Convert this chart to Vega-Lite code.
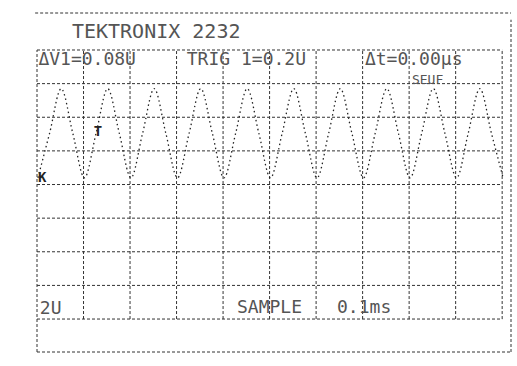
{
  "$schema": "https://vega.github.io/schema/vega-lite/v6.json",
  "width": 474,
  "height": 339,
  "autosize": {"type": "none"},
  "padding": {"left": 37, "top": 13, "right": 6, "bottom": 14},
  "background": "white",
  "config": {"view": {"stroke": null}},
  "datasets": {
    "lines": [
      {"x1": 0, "x2": 0, "y1": -0.98, "y2": 8},
      {"x1": 1, "x2": 1, "y1": 0, "y2": 8},
      {"x1": 2, "x2": 2, "y1": 0, "y2": 8},
      {"x1": 3, "x2": 3, "y1": 0, "y2": 8},
      {"x1": 4, "x2": 4, "y1": 0, "y2": 8},
      {"x1": 5, "x2": 5, "y1": 0, "y2": 8},
      {"x1": 6, "x2": 6, "y1": 0, "y2": 8},
      {"x1": 7, "x2": 7, "y1": 0, "y2": 8},
      {"x1": 8, "x2": 8, "y1": 0, "y2": 8},
      {"x1": 9, "x2": 9, "y1": 0, "y2": 8},
      {"x1": 10, "x2": 10, "y1": 0, "y2": 8},
      {"x1": 0, "x2": 10, "y1": 0, "y2": 0},
      {"x1": 0, "x2": 10, "y1": 1, "y2": 1},
      {"x1": 0, "x2": 10, "y1": 2, "y2": 2},
      {"x1": 0, "x2": 10, "y1": 3, "y2": 3},
      {"x1": 0, "x2": 10, "y1": 4, "y2": 4},
      {"x1": 0, "x2": 10, "y1": 5, "y2": 5},
      {"x1": 0, "x2": 10, "y1": 6, "y2": 6},
      {"x1": 0, "x2": 10, "y1": 7, "y2": 7},
      {"x1": 0, "x2": 10, "y1": 8, "y2": 8},
      {"x1": -0.04, "x2": 10.19, "y1": 9.1, "y2": 9.1},
      {"x1": 10.19, "x2": 10.19, "y1": -0.98, "y2": 8.9},
      {"x1": 0, "x2": 10.19, "y1": -0.98, "y2": -0.98}
    ],
    "wave": [
      {"t": 0.02, "v": 4.2}, {"t": 0.27, "v": 5.52}, {"t": 0.52, "v": 6.85}, {"t": 0.77, "v": 5.52},
      {"t": 1.02, "v": 4.2}, {"t": 1.27, "v": 5.52}, {"t": 1.52, "v": 6.85}, {"t": 1.77, "v": 5.52},
      {"t": 2.02, "v": 4.2}, {"t": 2.27, "v": 5.52}, {"t": 2.52, "v": 6.85}, {"t": 2.77, "v": 5.52},
      {"t": 3.02, "v": 4.2}, {"t": 3.27, "v": 5.52}, {"t": 3.52, "v": 6.85}, {"t": 3.77, "v": 5.52},
      {"t": 4.02, "v": 4.2}, {"t": 4.27, "v": 5.52}, {"t": 4.52, "v": 6.85}, {"t": 4.77, "v": 5.52},
      {"t": 5.02, "v": 4.2}, {"t": 5.27, "v": 5.52}, {"t": 5.52, "v": 6.85}, {"t": 5.77, "v": 5.52},
      {"t": 6.02, "v": 4.2}, {"t": 6.27, "v": 5.52}, {"t": 6.52, "v": 6.85}, {"t": 6.77, "v": 5.52},
      {"t": 7.02, "v": 4.2}, {"t": 7.27, "v": 5.52}, {"t": 7.52, "v": 6.85}, {"t": 7.77, "v": 5.52},
      {"t": 8.02, "v": 4.2}, {"t": 8.27, "v": 5.52}, {"t": 8.52, "v": 6.85}, {"t": 8.77, "v": 5.52},
      {"t": 9.02, "v": 4.2}, {"t": 9.27, "v": 5.52}, {"t": 9.52, "v": 6.85}, {"t": 9.77, "v": 5.52},
      {"t": 10.02, "v": 4.2}
    ],
    "labels": [
      {"g": "title", "text": "TEKTRONIX 2232", "x": 0.75, "y": 8.54},
      {"g": "main", "text": "ΔV1=0.08U", "x": 0.03, "y": 7.7},
      {"g": "main", "text": "TRIG 1=0.2U", "x": 3.22, "y": 7.7},
      {"g": "main", "text": "Δt=0.00μs", "x": 7.05, "y": 7.7},
      {"g": "small", "text": "SEUF", "x": 8.06, "y": 7.1},
      {"g": "main", "text": "2U", "x": 0.06, "y": 0.3},
      {"g": "main", "text": "SAMPLE", "x": 4.3, "y": 0.32},
      {"g": "main", "text": "0.1ms", "x": 6.45, "y": 0.32},
      {"g": "marker", "text": "T", "x": 1.22, "y": 5.57},
      {"g": "marker", "text": "K", "x": 0.02, "y": 4.2}
    ]
  },
  "layer": [
    {
      "data": {"name": "lines"},
      "mark": {"type": "rule", "color": "#333", "strokeWidth": 1, "strokeDash": [3, 2]},
      "encoding": {
        "x": {"field": "x1", "type": "quantitative", "scale": {"domain": [0, 10.19], "nice": false, "zero": false}, "axis": null},
        "x2": {"field": "x2"},
        "y": {"field": "y1", "type": "quantitative", "scale": {"domain": [-0.98, 9.1], "nice": false, "zero": false}, "axis": null},
        "y2": {"field": "y2"}
      }
    },
    {
      "data": {"name": "wave"},
      "mark": {"type": "line", "interpolate": "monotone", "color": "#222", "strokeWidth": 1.3, "strokeDash": [1.5, 3]},
      "encoding": {
        "x": {"field": "t", "type": "quantitative", "scale": {"domain": [0, 10.19], "nice": false, "zero": false}, "axis": null},
        "y": {"field": "v", "type": "quantitative", "scale": {"domain": [-0.98, 9.1], "nice": false, "zero": false}, "axis": null}
      }
    },
    {
      "data": {"name": "labels"},
      "transform": [{"filter": "datum.g == 'main'"}],
      "mark": {"type": "text", "align": "left", "baseline": "middle", "font": "DejaVu Sans Mono", "fontSize": 18, "color": "#555"},
      "encoding": {
        "x": {"field": "x", "type": "quantitative", "axis": null},
        "y": {"field": "y", "type": "quantitative", "axis": null},
        "text": {"field": "text"}
      }
    },
    {
      "data": {"name": "labels"},
      "transform": [{"filter": "datum.g == 'title'"}],
      "mark": {"type": "text", "align": "left", "baseline": "middle", "font": "DejaVu Sans Mono", "fontSize": 20, "color": "#555"},
      "encoding": {
        "x": {"field": "x", "type": "quantitative", "axis": null},
        "y": {"field": "y", "type": "quantitative", "axis": null},
        "text": {"field": "text"}
      }
    },
    {
      "data": {"name": "labels"},
      "transform": [{"filter": "datum.g == 'small'"}],
      "mark": {"type": "text", "align": "left", "baseline": "middle", "font": "DejaVu Sans Mono", "fontSize": 13, "color": "#555"},
      "encoding": {
        "x": {"field": "x", "type": "quantitative", "axis": null},
        "y": {"field": "y", "type": "quantitative", "axis": null},
        "text": {"field": "text"}
      }
    },
    {
      "data": {"name": "labels"},
      "transform": [{"filter": "datum.g == 'marker'"}],
      "mark": {"type": "text", "align": "left", "baseline": "middle", "font": "DejaVu Sans Mono", "fontSize": 14, "fontWeight": "bold", "color": "#222"},
      "encoding": {
        "x": {"field": "x", "type": "quantitative", "axis": null},
        "y": {"field": "y", "type": "quantitative", "axis": null},
        "text": {"field": "text"}
      }
    }
  ]
}
